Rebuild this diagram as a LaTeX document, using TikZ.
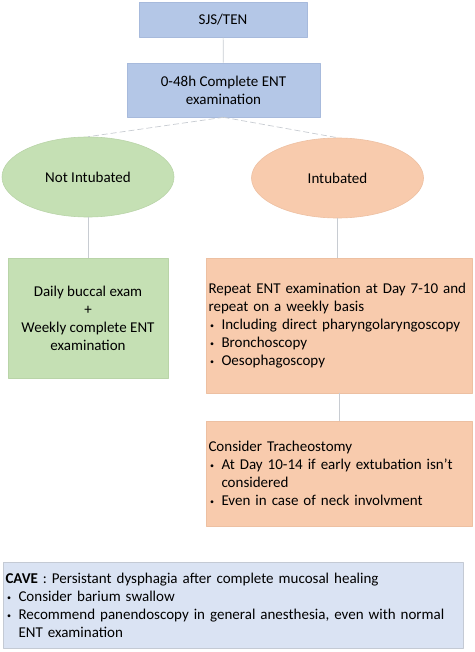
\documentclass[tikz,border=0pt]{standalone}
\usepackage{fontspec}
\setmainfont{Carlito}
\usepackage{tikz}
\usetikzlibrary{
  shapes.geometric, % ellipse nodes
  positioning       % relative placement
}
\definecolor{boxblue}{HTML}{B4C7E7}
\definecolor{boxblueline}{HTML}{A7BADC}
\definecolor{boxgreen}{HTML}{C5E0B4}
\definecolor{boxgreenline}{HTML}{B9D4A8}
\definecolor{boxorange}{HTML}{F8CBAD}
\definecolor{boxorangeline}{HTML}{EDC0A2}
\definecolor{caveblue}{HTML}{DAE3F3}
\definecolor{caveline}{HTML}{C4CAD4}
\definecolor{linkgray}{HTML}{C8CCD2}
\tikzset{
  stepbox/.style={
    rectangle,
    draw=boxblueline,
    fill=boxblue,
    line width=0.6pt,
    inner sep=0pt,
    align=center
  },
  branch/.style={
    ellipse,
    line width=0.6pt,
    inner sep=0pt,
    minimum width=172pt,
    minimum height=80pt
  },
  careblock/.style={
    rectangle,
    line width=0.6pt,
    inner xsep=2.5pt,
    inner ysep=0pt
  },
  link/.style={
    draw=linkgray,
    line width=0.7pt
  },
  split link/.style={
    link,
    dash pattern=on 6pt off 3pt
  }
}
% bullet item and hanging continuation
\newcommand{\bitem}[1]{\makebox[13pt][l]{\hspace{1.5pt}\raisebox{0.15ex}{\footnotesize\textbullet}}#1}
\newcommand{\bcont}{\hspace*{13pt}}

\begin{document}
\begin{tikzpicture}[x=1pt, y=-1pt, line join=round]
  \fontsize{15}{18}\selectfont
  \useasboundingbox (0,0) rectangle (474,652);

  % ===================================
  % top of the chart
  % ===================================
  \node[stepbox, minimum width=168pt, minimum height=35pt] (sjs) at (223,19.5) {SJS/TEN};
  \node[stepbox, minimum width=193pt, minimum height=54pt] (exam) at (223.5,90)
    {0-48h Complete ENT\\examination};

  % ===================================
  % the two branches
  % ===================================
  \node[branch, draw=boxgreenline, fill=boxgreen] (notint) at (88,177) {Not Intubated};
  \node[branch, draw=boxorangeline, fill=boxorange] (int) at (337.5,178) {Intubated};

  % left branch: not intubated
  \node[careblock, draw=boxgreenline, fill=boxgreen, align=center,
        minimum width=160pt, minimum height=120pt] (daily) at (88,318)
    {Daily buccal exam\\+\\Weekly complete ENT\\examination};

  % right branch: intubated
  \node[careblock, draw=boxorangeline, fill=boxorange, align=left,
        text width=261pt, minimum height=135pt] (repeat) at (339,325.5)
    {Repeat ENT examination at Day 7-10 and\\
     repeat on a weekly basis\\
     \bitem{Including direct pharyngolaryngoscopy}\\
     \bitem{Bronchoscopy}\\
     \bitem{Oesophagoscopy}};
  \node[careblock, draw=boxorangeline, fill=boxorange, align=left,
        text width=261pt, minimum height=105pt] (trach) at (339,473.5)
    {Consider Tracheostomy\\
     \bitem{At Day 10-14 if early extubation isn't}\\
     \bcont considered\\
     \bitem{Even in case of neck involvment}};

  % ===================================
  % warning block at the bottom
  % ===================================
  \node[careblock, draw=caveline, fill=caveblue, align=left,
        text width=455pt, minimum height=86pt] (cave) at (233,605)
    {\textbf{CAVE} : Persistant dysphagia after complete mucosal healing\\
     \bitem{Consider barium swallow}\\
     \bitem{Recommend panendoscopy in general anesthesia, even with normal}\\
     \bcont ENT examination};

  % ===================================
  % connectors
  % ===================================
  \draw[link] (sjs) -- (exam);
  \draw[split link] (exam.south) -- (notint.north);
  \draw[split link] (exam.south) -- (int.north);
  \draw[link] (notint) -- (daily);
  \draw[link] (int.south) -- (int.south |- repeat.north);
  \draw[link] (repeat.south) -- (repeat.south |- trach.north);
\end{tikzpicture}
\end{document}
